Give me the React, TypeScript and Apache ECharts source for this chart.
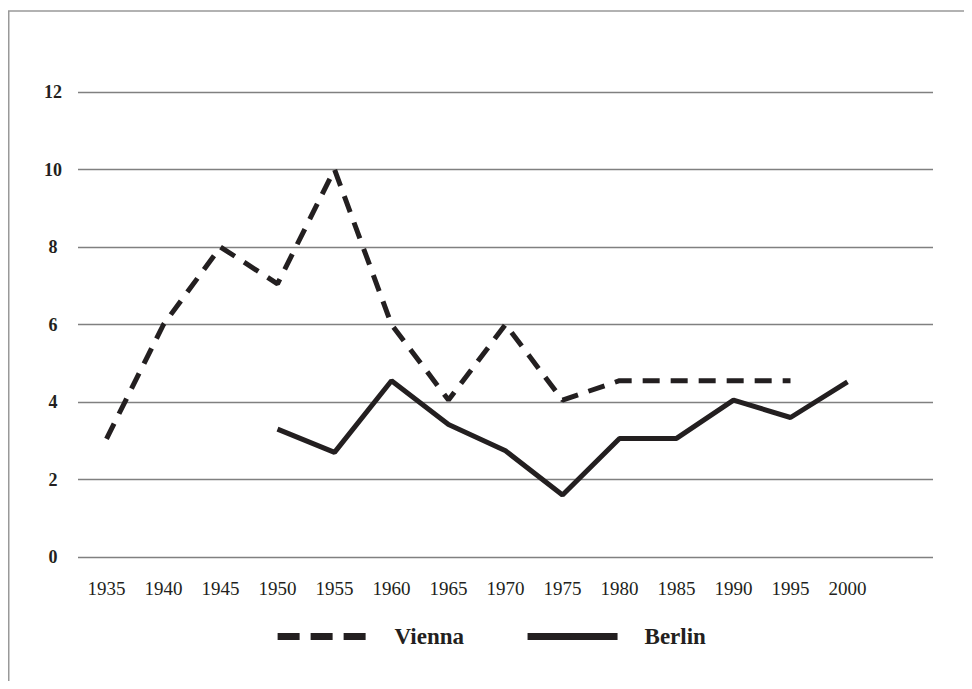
import React, { useEffect, useRef } from "react";
import * as echarts from "echarts";

const years = ["1935", "1940", "1945", "1950", "1955", "1960", "1965", "1970", "1975", "1980", "1985", "1990", "1995", "2000", ""];
const vienna = [3.05, 6, 8, 7.05, 10, 6, 4.05, 6, 4.05, 4.55, 4.55, 4.55, 4.55, null, null];
const berlin = [null, null, null, 3.3, 2.7, 4.55, 3.42, 2.74, 1.6, 3.06, 3.06, 4.05, 3.6, 4.52, null];
const yTicks = { min: 0, max: 12, interval: 2 };

const INK = "#231f20";
const FONT = "'Liberation Serif', 'DejaVu Serif', serif";

export default function App() {
  const ref = useRef<HTMLDivElement>(null);
  useEffect(() => {
    if (!ref.current) return;
    const chart = echarts.init(ref.current, undefined, { renderer: "svg" });
    chart.setOption({
      animation: false,
      backgroundColor: "#ffffff",
      grid: { left: 70, right: 39, top: 84, bottom: 124, containLabel: false },
      graphic: [
        { type: "line", shape: { x1: 0.75, y1: 3, x2: 0.75, y2: 673 }, style: { stroke: "#999", lineWidth: 1.5 } },
        { type: "line", shape: { x1: 0, y1: 3, x2: 964, y2: 3 }, style: { stroke: "#999", lineWidth: 1.5 } },
      ],
      xAxis: {
        type: "category",
        data: years,
        boundaryGap: true,
        axisLine: { show: false },
        axisTick: { show: false },
        splitLine: { show: false },
        axisLabel: { interval: 0, margin: 22, color: INK, fontFamily: FONT, fontSize: 19 },
      },
      yAxis: {
        type: "value",
        min: yTicks.min,
        max: yTicks.max,
        interval: yTicks.interval,
        axisLine: { show: false },
        axisTick: { show: false },
        splitLine: { show: true, lineStyle: { color: "#808080", width: 1.3 } },
        axisLabel: { margin: 25, align: "center", color: INK, fontFamily: FONT, fontSize: 18, fontWeight: "bold" },
      },
      legend: {
        left: "center",
        top: 612,
        itemWidth: 90,
        itemHeight: 7,
        itemGap: 60,
        textStyle: { color: INK, fontFamily: FONT, fontSize: 23, fontWeight: "bold", padding: [0, 0, 0, 22] },
        data: [
          { name: "Vienna", lineStyle: { width: 7, type: [22, 11], color: INK } },
          { name: "Berlin", lineStyle: { width: 7, type: "solid", color: INK } },
        ],
      },
      series: [
        {
          name: "Vienna",
          type: "line",
          data: vienna,
          symbol: "none",
          showSymbol: false,
          connectNulls: false,
          lineStyle: { color: INK, width: 5, type: [17, 11] },
          itemStyle: { color: INK },
        },
        {
          name: "Berlin",
          type: "line",
          data: berlin,
          symbol: "none",
          showSymbol: false,
          connectNulls: false,
          lineStyle: { color: INK, width: 5, type: "solid" },
          itemStyle: { color: INK },
        },
      ],
    });
    return () => chart.dispose();
  }, []);
  return <div ref={ref} style={{ width: 964, height: 673 }} />;
}
